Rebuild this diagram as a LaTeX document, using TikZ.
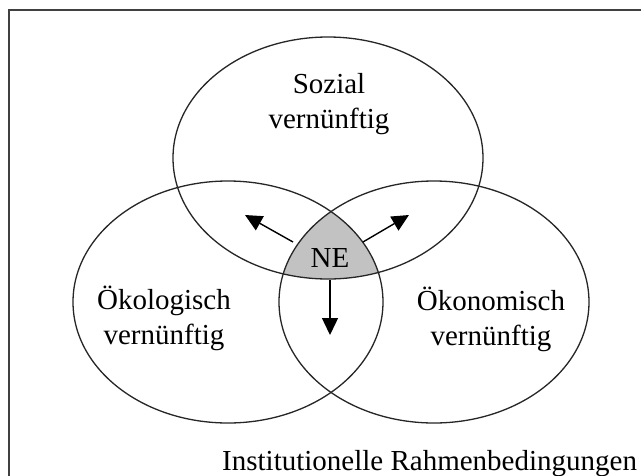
\documentclass[tikz,border=0pt]{standalone}
\usepackage{fontspec}
\setmainfont{Liberation Serif}
\usetikzlibrary{arrows.meta}
\begin{document}
\begin{tikzpicture}[x=1pt,y=-1pt,
  lbl/.style={anchor=base,inner sep=0pt,font=\fontsize{29}{35}\selectfont},
  ring/.style={draw=black!85,line width=1.3pt},
  arr/.style={line width=1.4pt,-{Triangle[length=17pt,width=16pt]}}]
\path[use as bounding box,clip] (0,0) rectangle (641,475);
\fill[white] (0,0) rectangle (641,475);
% outer frame (right and bottom edges lie outside the picture)
\draw[draw=black!75,line width=2pt] (9,10) rectangle (700,520);
% gray intersection
\begin{scope}
  \clip (328,158) ellipse [x radius=155pt, y radius=121pt];
  \clip (228,302) ellipse [x radius=155pt, y radius=121pt];
  \fill[black!24] (434,302) ellipse [x radius=155pt, y radius=121pt];
\end{scope}
% three ellipses
\draw[ring] (328,158) ellipse [x radius=155pt, y radius=121pt];
\draw[ring] (228,302) ellipse [x radius=155pt, y radius=121pt];
\draw[ring] (434,302) ellipse [x radius=155pt, y radius=121pt];
% labels
\node[lbl] (soz1) at (329,93) {Sozial};
\node[lbl] (soz2) at (329,128) {vernünftig};
\node[lbl] (oek1) at (164,309) {Ökologisch};
\node[lbl] (oek2) at (164,344) {vernünftig};
\node[lbl] (oko1) at (491,310) {Ökonomisch};
\node[lbl] (oko2) at (491,345) {vernünftig};
\node[lbl] (ne) at (330,267) {NE};
\node[lbl,anchor=base west] (inst) at (222,470) {Institutionelle Rahmenbedingungen};
% arrows
\coordinate (a1s) at (293,242);
\coordinate (a1e) at (245,215);
\coordinate (a2s) at (363,242);
\coordinate (a2e) at (409,215);
\coordinate (a3s) at (330,280);
\coordinate (a3e) at (330,335);
\draw[arr] (a1s) -- (a1e);
\draw[arr] (a2s) -- (a2e);
\draw[arr] (a3s) -- (a3e);
\end{tikzpicture}
\end{document}
